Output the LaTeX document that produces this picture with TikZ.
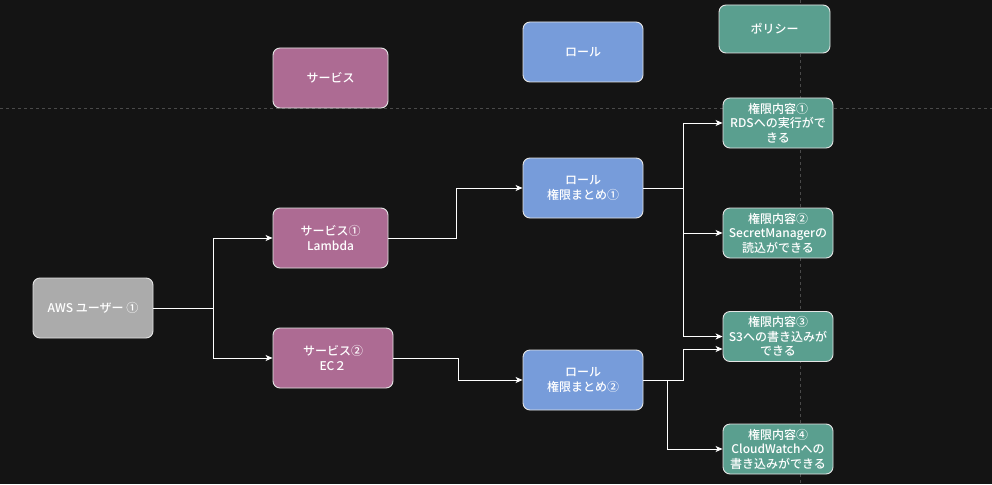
\documentclass[tikz,border=0pt]{standalone}
\usepackage{fontspec}
\setmainfont{Noto Sans CJK JP}[UprightFont=* Medium]
\usetikzlibrary{arrows.meta}
\definecolor{bgc}{HTML}{141414}
\definecolor{gridc}{HTML}{4A4A4A}
\definecolor{svcc}{HTML}{AD6B93}
\definecolor{rolec}{HTML}{779CDA}
\definecolor{polc}{HTML}{5A9F8F}
\definecolor{userc}{HTML}{ABABAB}
\tikzset{
  box/.style={draw=white!90!black, line width=0.9pt, rounded corners=7pt, text=white,
    font=\fontsize{12}{14.5}\selectfont, align=center, inner sep=1pt},
  svcbox/.style={box, fill=svcc, minimum width=115pt, minimum height=60pt},
  rolebox/.style={box, fill=rolec, minimum width=120pt, minimum height=60pt},
  polbox/.style={box, fill=polc, minimum width=110pt, minimum height=50pt},
  userbox/.style={box, fill=userc, minimum width=120pt, minimum height=60pt},
  conn/.style={draw=white, line width=0.9pt, -{Stealth[length=7pt,width=6pt,inset=2pt]}},
  guide/.style={draw=gridc, line width=0.8pt, dash pattern=on 3pt off 3pt}
}
\begin{document}
\begin{tikzpicture}[x=1pt,y=-1pt]
\fill[bgc] (0,0) rectangle (992,484);
\useasboundingbox (0,0) rectangle (992,484);
% guide lines
\coordinate (hl) at (0,108.5);
\coordinate (hr) at (992,108.5);
\coordinate (vt) at (800.5,0);
\coordinate (vb) at (800.5,484);
\draw[guide] (hl) -- (hr);
\draw[guide] (vt) -- (vb);
% header nodes
\node[svcbox] (svc) at (330.5,78) {サービス};
\node[rolebox] (role) at (583,52) {ロール};
\node[polbox, minimum width=111pt, minimum height=48pt] (pol) at (774.5,29) {ポリシー};
% main nodes
\node[userbox] (aws) at (93,308) {AWS ユーザー ①};
\node[svcbox] (s1) at (330.5,238) {サービス①\\Lambda};
\node[svcbox, minimum width=120pt] (s2) at (333,358) {サービス②\\EC２};
\node[rolebox] (r1) at (583,188) {ロール\\権限まとめ①};
\node[rolebox] (r2) at (583,380) {ロール\\権限まとめ②};
\node[polbox] (p1) at (778,123) {権限内容①\\RDSへの実行がで\\きる};
\node[polbox] (p2) at (778,233) {権限内容②\\SecretManagerの\\読込ができる};
\node[polbox] (p3) at (778,336.5) {権限内容③\\S3への書き込みが\\できる};
\node[polbox] (p4) at (778,449) {権限内容④\\CloudWatchへの\\書き込みができる};
% connectors
\draw[conn] (aws.east) -- ++(60,0) |- (s1.west);
\draw[conn] (aws.east) -- ++(60,0) |- (s2.west);
\draw[conn] (s1.east) -- ++(68,0) |- (r1.west);
\draw[conn] (s2.east) -- ++(65,0) |- (r2.west);
\draw[conn] (r1.east) -- ++(40,0) |- (p1.west);
\draw[conn] (r1.east) -- ++(40,0) |- (p2.west);
\draw[conn] (r1.east) -- ++(40,0) |- (p3.west);
\draw[conn] (r2.east) -- ++(40,0) |- ([yshift=-12.5pt]p3.west);
\draw[conn] (r2.east) -- ++(24,0) |- (p4.west);
\end{tikzpicture}
\end{document}
